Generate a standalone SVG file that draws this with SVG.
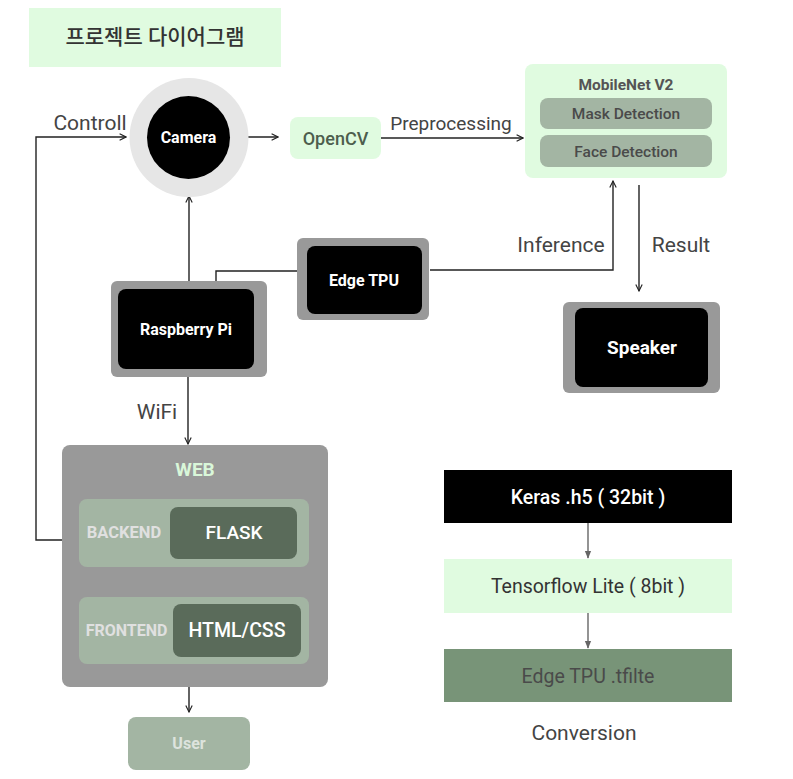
<svg xmlns="http://www.w3.org/2000/svg" width="793" height="779" viewBox="0 0 793 779">
<style>
text{font-family:Roboto,"Noto Sans CJK KR","Noto Sans",sans-serif;text-anchor:middle;dominant-baseline:central}
.lbl{font-size:21px;fill:#444}
.wb{fill:#fff;font-weight:bold;font-size:16px}
.conn{fill:none;stroke:#222;stroke-width:1.4}
.gconn{fill:none;stroke:#666;stroke-width:1.4}
.mint{fill:#e0fbe0}
.sage{fill:#a3b5a3}
.dark{fill:#5a6b5a}
.frame{fill:#999}
</style>
<defs>
<marker id="ah" viewBox="0 0 10 10" refX="9" refY="5" markerWidth="8" markerHeight="8" markerUnits="userSpaceOnUse" orient="auto"><path d="M1,1 L9,5 L1,9" fill="none" stroke="#222" stroke-width="1.4"/></marker>
<marker id="gh" viewBox="0 0 10 10" refX="9" refY="5" markerWidth="8" markerHeight="8" markerUnits="userSpaceOnUse" orient="auto"><path d="M0,1 L10,5 L0,9 Z" fill="#666"/></marker>
</defs>
<rect width="793" height="779" fill="#fff"/>

<g id="title">
<rect x="29" y="8" width="252" height="59" class="mint"/>
<text x="155" y="37" style="font-size:21px;fill:#333;font-weight:500">프로젝트 다이어그램</text>
</g>

<g id="connectors">
<line x1="238" y1="137" x2="278" y2="137" class="conn" marker-end="url(#ah)"/>
<line x1="381" y1="138" x2="523" y2="138" class="conn" marker-end="url(#ah)"/>
<polyline points="430,270 613,270 613,181" class="conn" marker-end="url(#ah)"/>
<line x1="639" y1="185" x2="639" y2="291" class="conn" marker-end="url(#ah)"/>
<polyline points="297,271 216,271 216,281" class="conn"/>
<line x1="189" y1="281" x2="189" y2="196" class="conn" marker-end="url(#ah)"/>
<line x1="188" y1="377" x2="188" y2="444" class="conn" marker-end="url(#ah)"/>
<polyline points="62,540 36,540 36,137 126,137" class="conn" marker-end="url(#ah)"/>
<line x1="189" y1="680" x2="189" y2="712" class="conn" marker-end="url(#ah)"/>
<line x1="588" y1="523" x2="588" y2="558" class="gconn" marker-end="url(#gh)"/>
<line x1="588" y1="613" x2="588" y2="648" class="gconn" marker-end="url(#gh)"/>
<text x="90" y="123" class="lbl">Controll</text>
<text x="451" y="123" class="lbl" style="font-size:19px">Preprocessing</text>
<text x="561" y="245" class="lbl">Inference</text>
<text x="681" y="245" class="lbl">Result</text>
<text x="157" y="412" class="lbl">WiFi</text>
</g>

<g id="camera">
<circle cx="189" cy="137.5" r="59.5" fill="#e6e6e6"/>
<circle cx="188.5" cy="137.5" r="41.5" fill="#000"/>
<text x="188.5" y="137.5" class="wb">Camera</text>
</g>

<g id="opencv">
<rect x="290" y="117" width="91" height="42" rx="8" class="mint"/>
<text x="335.5" y="138.5" style="font-size:18px;fill:#4d5e4d;font-weight:500">OpenCV</text>
</g>

<g id="mobilenet">
<rect x="525" y="64" width="202" height="114" rx="8" class="mint"/>
<text x="626" y="85" style="font-size:15.5px;fill:#555;font-weight:bold">MobileNet V2</text>
<rect x="540" y="98" width="172" height="31" rx="8" class="sage"/>
<text x="626" y="114" style="font-size:15.5px;fill:#4a4a4a;font-weight:500">Mask Detection</text>
<rect x="540" y="135" width="172" height="32" rx="8" class="sage"/>
<text x="626" y="152" style="font-size:15.5px;fill:#4a4a4a;font-weight:500">Face Detection</text>
</g>

<g id="edgetpu">
<rect x="297" y="238" width="132" height="82" rx="6" class="frame"/>
<rect x="307" y="246" width="115" height="68" rx="8" fill="#000"/>
<text x="364" y="280" class="wb">Edge TPU</text>
</g>

<g id="raspberrypi">
<rect x="111" y="281" width="156" height="96" rx="6" class="frame"/>
<rect x="118" y="289" width="136" height="80" rx="8" fill="#000"/>
<text x="186" y="329" class="wb">Raspberry Pi</text>
</g>

<g id="speaker">
<rect x="563" y="302" width="157" height="91" rx="6" class="frame"/>
<rect x="575" y="308" width="133" height="79" rx="8" fill="#000"/>
<text x="642" y="347" style="fill:#fff;font-weight:bold;font-size:19px">Speaker</text>
</g>

<g id="web">
<rect x="62" y="445" width="266" height="242" rx="8" class="frame"/>
<text x="195" y="469" style="font-size:19px;font-weight:bold;fill:#d9f7d9">WEB</text>
<g id="backend">
<rect x="79" y="499" width="230" height="68" rx="8" class="sage"/>
<text x="124" y="532" style="font-size:16.5px;font-weight:bold;fill:#e0e0e0">BACKEND</text>
<rect x="170" y="507" width="127" height="52" rx="8" class="dark"/>
<text x="234" y="532" style="font-size:19px;font-weight:500;fill:#fff">FLASK</text>
</g>
<g id="frontend">
<rect x="79" y="597" width="230" height="67" rx="8" class="sage"/>
<text x="126.5" y="630" style="font-size:16px;font-weight:bold;fill:#e0e0e0">FRONTEND</text>
<rect x="173" y="604" width="128" height="53" rx="8" class="dark"/>
<text x="237" y="630" style="font-size:19.5px;font-weight:500;fill:#fff">HTML/CSS</text>
</g>
</g>

<g id="user">
<rect x="128" y="717" width="122" height="53" rx="8" class="sage"/>
<text x="189" y="743" style="font-size:16px;font-weight:bold;fill:#dde3dd">User</text>
</g>

<g id="keras">
<rect x="444" y="470" width="288" height="53" fill="#000"/>
<text x="588" y="497" style="font-size:19.5px;font-weight:500;fill:#fff">Keras .h5 ( 32bit )</text>
</g>
<g id="tflite">
<rect x="444" y="559" width="288" height="54" class="mint"/>
<text x="588" y="586" style="font-size:19.5px;fill:#333">Tensorflow Lite ( 8bit )</text>
</g>
<g id="edgetflite">
<rect x="444" y="649" width="288" height="53" fill="#789478"/>
<text x="588" y="676" style="font-size:19.5px;fill:#4a4a4a">Edge TPU .tfilte</text>
</g>
<g id="conversion">
<text x="584" y="733" class="lbl">Conversion</text>
</g>
</svg>
